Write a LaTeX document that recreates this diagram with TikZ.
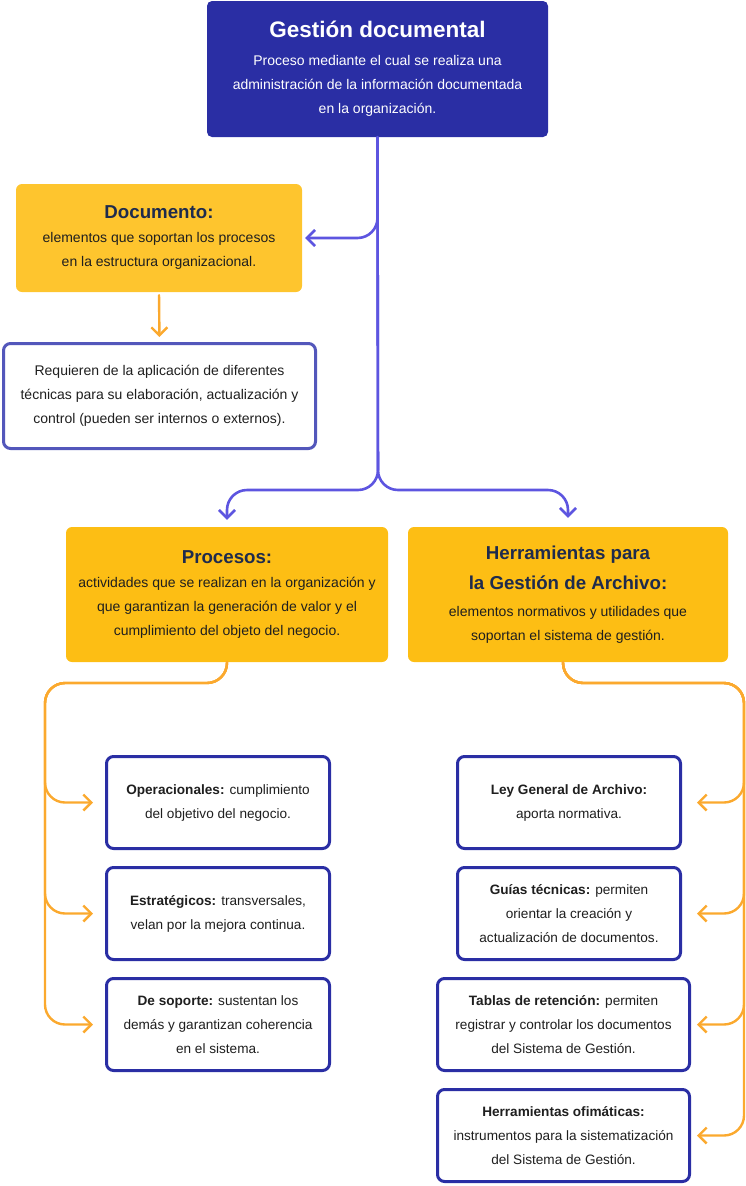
\documentclass[tikz,border=0pt]{standalone}
\usepackage{fontspec}
\setmainfont{Liberation Sans}
\usetikzlibrary{arrows.meta,positioning,calc}
\definecolor{navy}{HTML}{2A2EA4}
\definecolor{violet}{HTML}{5D55E0}
\definecolor{frame}{HTML}{5357BB}
\definecolor{amber}{HTML}{FBA92E}
\definecolor{docfill}{HTML}{FEC52E}
\definecolor{secfill}{HTML}{FDBE14}
\definecolor{headink}{HTML}{1E2B4D}
\definecolor{ink}{HTML}{1F1F1F}
\newcommand{\bigtitle}{\fontsize{22.5}{26}\selectfont\bfseries}
\newcommand{\headtitle}{\fontsize{18.7}{24}\selectfont\bfseries\color{headink}}
\tikzset{
  >={Straight Barb[length=8pt,width=16pt]},
  every picture/.style={line cap=round, line join=round},
  body/.style={font=\fontsize{14}{24}\selectfont, align=center, text=ink, inner sep=0pt},
  small/.style={font=\fontsize{13.6}{24}\selectfont, align=center, text=ink, inner sep=0pt},
  topbox/.style={body, fill=navy, text=white, rounded corners=5pt,
    minimum width=341pt, minimum height=136pt},
  yelbox/.style={body, fill=#1, rounded corners=6pt},
  linebox/.style={small, draw=#1, fill=white, line width=3pt, rounded corners=7pt,
    minimum height=92pt},
  parr/.style={->, draw=violet, line width=2.6pt, rounded corners=20pt},
  oarr/.style={->, draw=amber, line width=2.4pt, rounded corners=20pt},
}
\begin{document}
\begin{tikzpicture}[x=1pt, y=-1pt]
  \useasboundingbox (0,0) rectangle (746,1186);
  % ======================= top =======================
  \node[topbox] (gd) at (377.5,69) {{\bigtitle Gestión documental}\\[4pt]
    Proceso mediante el cual se realiza una\\
    administración de la información documentada\\
    en la organización.};
  \node[yelbox=docfill, minimum width=286pt, minimum height=108pt] (doc) at (159,238)
    {{\headtitle Documento:}\\ elementos que soportan los procesos\\ en la estructura organizacional.};
  \node[linebox=frame, body, minimum width=312pt, minimum height=105pt] (req) at (159.5,396)
    {Requieren de la aplicación de diferentes\\ técnicas para su elaboración, actualización y\\
    control (pueden ser internos o externos).};
  \draw[parr] (gd.south) |- ([shift={(3,0)}]doc.east);
  \draw[oarr, shorten <=3pt, shorten >=5pt] (doc.south) -- (req.north);

  % ======================= two branches =======================
  \node[yelbox=secfill, minimum width=322pt, minimum height=135pt] (proc) at (227,594.5)
    {{\headtitle Procesos:}\\ actividades que se realizan en la organización y\\
    que garantizan la generación de valor y el\\ cumplimiento del objeto del negocio.};
  \node[yelbox=secfill, minimum width=320pt, minimum height=135pt] (herr) at (568,594.5)
    {{\headtitle Herramientas para}\\[6pt] {\headtitle la Gestión de Archivo:}\\[3pt]
    elementos normativos y utilidades que\\ soportan el sistema de gestión.};
  \coordinate (fork) at (378,490);
  \draw[parr, shorten >=7pt] (gd.south) -- (fork) -| (proc.north);
  \draw[parr, shorten >=9pt] (gd.south) -- (fork) -| (herr.north);

  % ======================= Procesos: types =======================
  \node[linebox=navy, minimum width=223pt] (op) at (218,802.5)
    {\textbf{Operacionales:} cumplimiento\\ del objetivo del negocio.};
  \node[linebox=navy, minimum width=223pt] (est) at (218,913.5)
    {\textbf{Estratégicos:} transversales,\\ velan por la mejora continua.};
  \node[linebox=navy, minimum width=223pt] (sop) at (218,1024.5)
    {\textbf{De soporte:} sustentan los\\ demás y garantizan coherencia\\ en el sistema.};
  \coordinate (lrail) at (45,683);
  \coordinate (ltip) at (93,0);
  \foreach \b in {op,est,sop}
    \draw[oarr] (proc.south) |- (lrail) |- (\b.west -| ltip);

  % ======================= Herramientas: items =======================
  \node[linebox=navy, minimum width=223pt] (ley) at (569,802.5)
    {\textbf{Ley General de Archivo:}\\ aporta normativa.};
  \node[linebox=navy, minimum width=223pt] (guia) at (569,913.5)
    {\textbf{Guías técnicas:} permiten\\ orientar la creación y\\ actualización de documentos.};
  \node[linebox=navy, minimum width=252pt] (tab) at (563.5,1024.5)
    {\textbf{Tablas de retención:} permiten\\ registrar y controlar los documentos\\ del Sistema de Gestión.};
  \node[linebox=navy, minimum width=252pt] (ofi) at (563.5,1135.5)
    {\textbf{Herramientas ofimáticas:}\\ instrumentos para la sistematización\\ del Sistema de Gestión.};
  \coordinate (rrail) at (744,683);
  \coordinate (rtip) at (697,0);
  \foreach \b in {ley,guia,tab,ofi}
    \draw[oarr] ([xshift=-5pt]herr.south) |- (rrail) |- (\b.east -| rtip);
\end{tikzpicture}
\end{document}
